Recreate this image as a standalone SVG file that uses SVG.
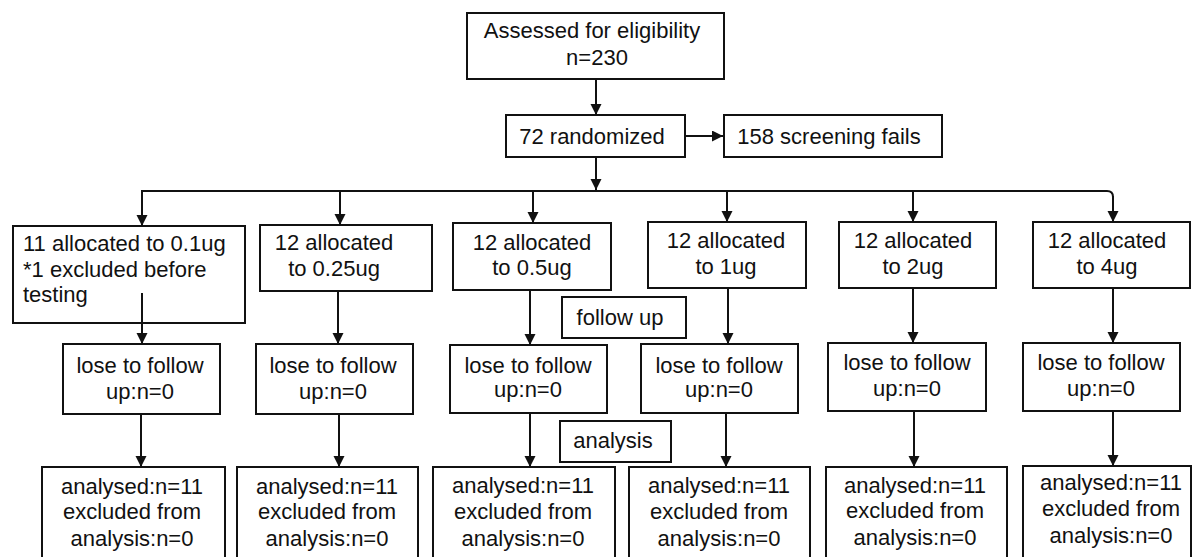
<svg xmlns="http://www.w3.org/2000/svg" width="1192" height="557" viewBox="0 0 1192 557">
<defs>
<marker id="ah" markerUnits="userSpaceOnUse" markerWidth="12" markerHeight="12" refX="11" refY="5.5" orient="auto">
<path d="M0,0 L11,5.5 L0,11 z" fill="#111"/>
</marker>
<style>
rect{fill:#fff;stroke:#111;stroke-width:2}
text{font-family:"Liberation Sans",Arial,sans-serif;font-size:22px;fill:#111;text-anchor:middle}
.l{text-anchor:start}
#connectors path{fill:none;stroke:#111;stroke-width:2}
#connectors .a{marker-end:url(#ah)}
</style>
</defs>
<rect x="0" y="0" width="1192" height="557" style="fill:#fff;stroke:none"/>

<g id="n-assessed"><rect x="467" y="13" width="257" height="66"/><text x="592" y="38">Assessed for eligibility</text><text x="597" y="65">n=230</text></g>
<g id="n-randomized"><rect x="506" y="115" width="179" height="42"/><text x="592" y="144">72 randomized</text></g>
<g id="n-fails"><rect x="724" y="115" width="218" height="42"/><text x="829" y="144">158 screening fails</text></g>

<g id="n-a1"><rect x="13" y="226" width="232" height="97"/><text class="l" x="23" y="251">11 allocated to 0.1ug</text><text class="l" x="23" y="277">*1 excluded before</text><text class="l" x="23" y="302">testing</text></g>
<g id="n-a2"><rect x="260" y="225" width="172" height="66"/><text x="334" y="250">12 allocated</text><text x="334" y="276">to 0.25ug</text></g>
<g id="n-a3"><rect x="453" y="223" width="158" height="67"/><text x="532" y="250">12 allocated</text><text x="532" y="275">to 0.5ug</text></g>
<g id="n-a4"><rect x="648" y="222" width="158" height="66"/><text x="726" y="248">12 allocated</text><text x="726" y="274">to 1ug</text></g>
<g id="n-a5"><rect x="839" y="222" width="157" height="66"/><text x="913" y="248">12 allocated</text><text x="913" y="274">to 2ug</text></g>
<g id="n-a6"><rect x="1033" y="222" width="157" height="66"/><text x="1107" y="248">12 allocated</text><text x="1107" y="274">to 4ug</text></g>

<g id="n-followup"><rect x="562" y="297" width="124" height="41"/><text x="620" y="325">follow up</text></g>

<g id="n-l1"><rect x="63" y="344" width="157" height="70"/><text x="140" y="373">lose to follow</text><text x="140" y="399">up:n=0</text></g>
<g id="n-l2"><rect x="256" y="344" width="157" height="70"/><text x="333" y="373">lose to follow</text><text x="333" y="399">up:n=0</text></g>
<g id="n-l3"><rect x="450" y="345" width="157" height="68"/><text x="528" y="373">lose to follow</text><text x="528" y="397">up:n=0</text></g>
<g id="n-l4"><rect x="641" y="344" width="157" height="69"/><text x="719" y="373">lose to follow</text><text x="719" y="397">up:n=0</text></g>
<g id="n-l5"><rect x="828" y="343" width="158" height="68"/><text x="907" y="370">lose to follow</text><text x="907" y="396">up:n=0</text></g>
<g id="n-l6"><rect x="1023" y="343" width="157" height="68"/><text x="1101" y="370">lose to follow</text><text x="1101" y="396">up:n=0</text></g>

<g id="n-analysis"><rect x="560" y="421" width="111" height="41"/><text x="613" y="448">analysis</text></g>

<g id="n-r1"><rect x="42" y="467" width="183" height="100"/><text x="132" y="494">analysed:n=11</text><text x="132" y="519">excluded from</text><text x="132" y="546">analysis:n=0</text></g>
<g id="n-r2"><rect x="237" y="467" width="181" height="100"/><text x="327" y="494">analysed:n=11</text><text x="327" y="519">excluded from</text><text x="327" y="546">analysis:n=0</text></g>
<g id="n-r3"><rect x="433" y="467" width="182" height="100"/><text x="523" y="493">analysed:n=11</text><text x="523" y="519">excluded from</text><text x="523" y="546">analysis:n=0</text></g>
<g id="n-r4"><rect x="629" y="467" width="181" height="100"/><text x="719" y="493">analysed:n=11</text><text x="719" y="519">excluded from</text><text x="719" y="546">analysis:n=0</text></g>
<g id="n-r5"><rect x="826" y="467" width="181" height="100"/><text x="915" y="493">analysed:n=11</text><text x="915" y="518">excluded from</text><text x="915" y="545">analysis:n=0</text></g>
<g id="n-r6"><rect x="1023" y="466" width="168" height="100"/><text x="1111" y="490">analysed:n=11</text><text x="1111" y="516">excluded from</text><text x="1111" y="543">analysis:n=0</text></g>

<g id="connectors">
<path class="a" d="M596,80 V115"/>
<path class="a" d="M685,136 H723"/>
<path class="a" d="M596,157 V190"/>
<path d="M142,197 V191 H1107 Q1113,191 1113,197"/>
<path class="a" d="M142,191 V226"/>
<path class="a" d="M340,191 V225"/>
<path class="a" d="M533,191 V223"/>
<path class="a" d="M727,191 V222"/>
<path class="a" d="M913,191 V222"/>
<path class="a" d="M1113,196 V222"/>
<path class="a" d="M142,293 V344"/>
<path class="a" d="M338,291 V344"/>
<path class="a" d="M530,290 V345"/>
<path class="a" d="M728,288 V344"/>
<path class="a" d="M913,288 V343"/>
<path class="a" d="M1113,288 V343"/>
<path class="a" d="M141,414 V467"/>
<path class="a" d="M339,414 V467"/>
<path class="a" d="M530,413 V467"/>
<path class="a" d="M726,413 V467"/>
<path class="a" d="M914,411 V467"/>
<path class="a" d="M1113,411 V466"/>
</g>
</svg>
